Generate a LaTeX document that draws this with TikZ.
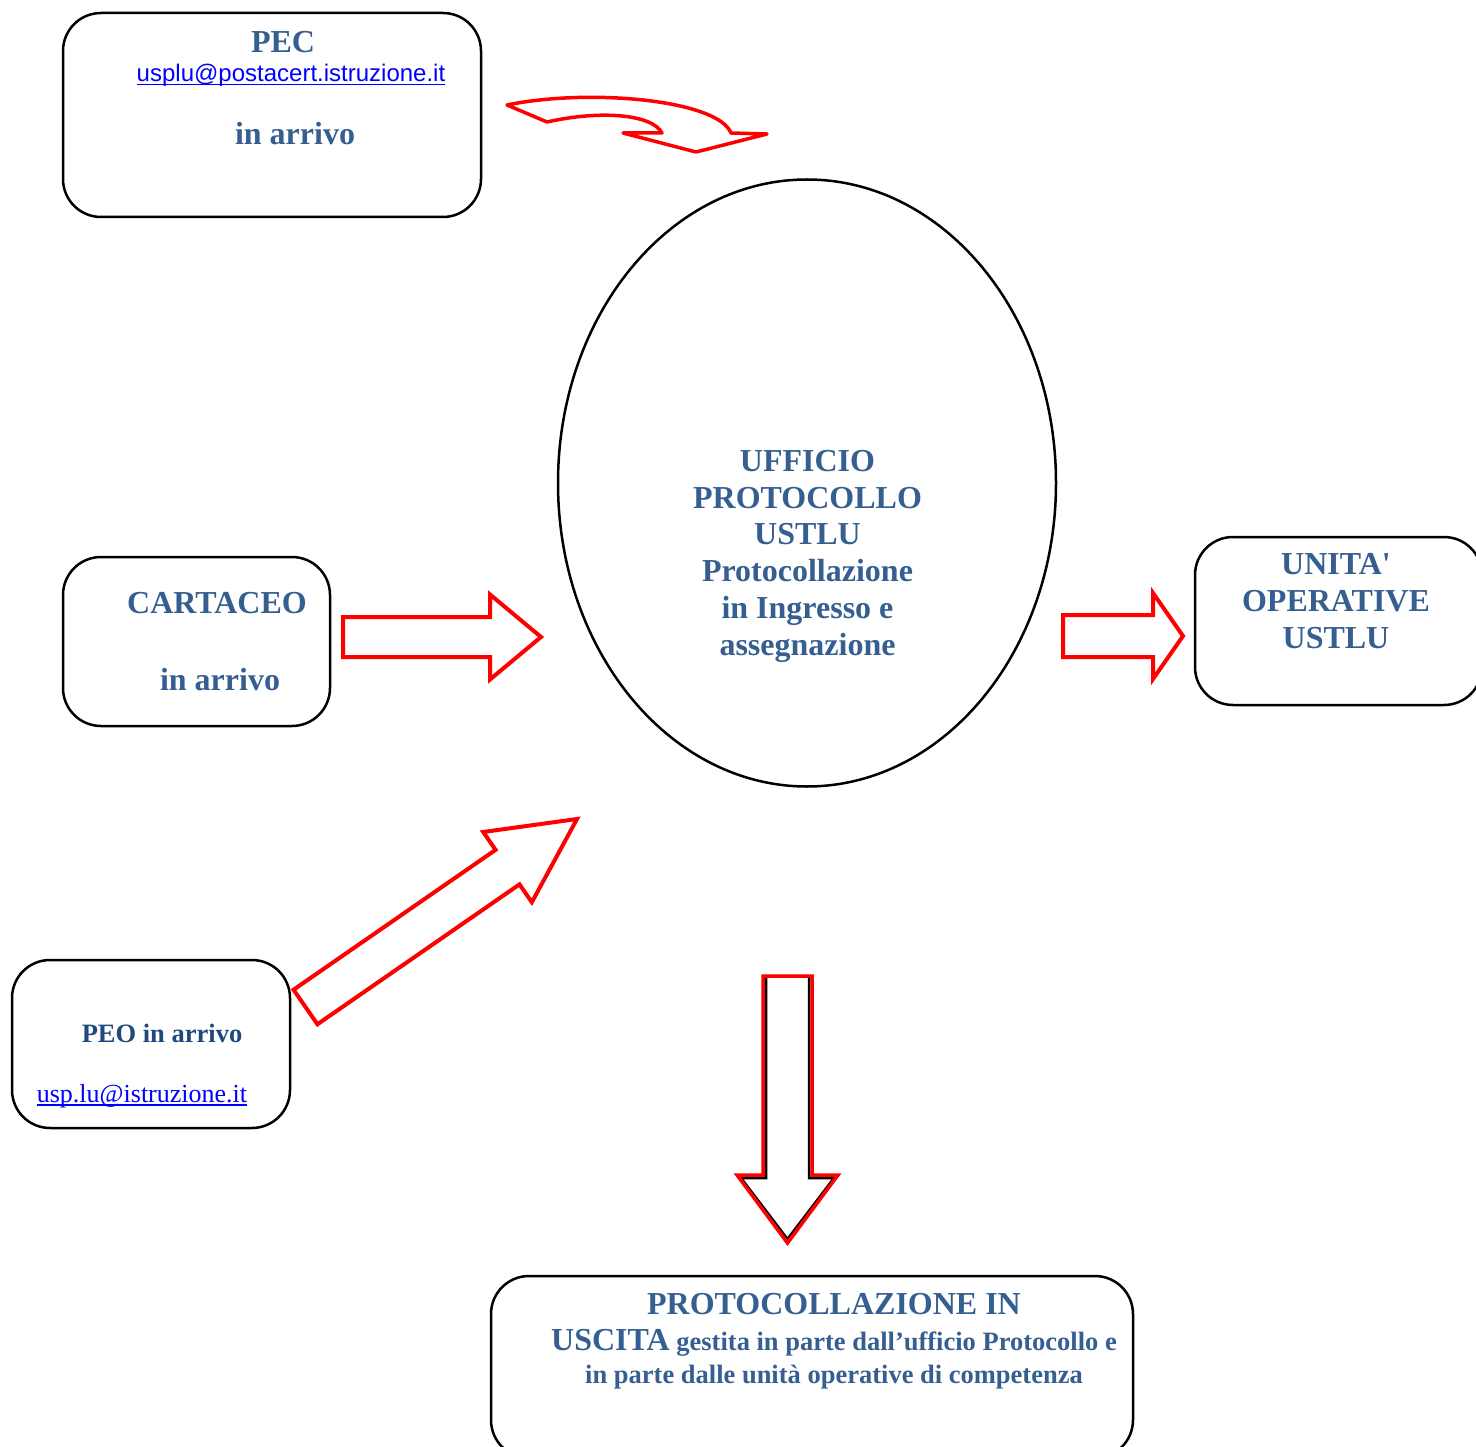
\documentclass[tikz,border=0pt]{standalone}
\usepackage{fontspec}
\setmainfont{Liberation Serif}
\newfontfamily\arialfont{Liberation Sans}
\usetikzlibrary{positioning, shapes.geometric, calc}

\definecolor{titleblue}{RGB}{54,95,145}
\definecolor{peoblue}{RGB}{31,73,125}

% underlined mail address
\newcommand{\mailul}[1]{\setbox0\hbox{#1}\rlap{\rule[-3.5pt]{\wd0}{1.6pt}}\box0}

% block arrow: [options]{tail}{tip}{shaft half width}{head half width}{head length}
\newcommand{\blockarrow}[6][]{%
  \coordinate (bahead) at ($(#3)!#6!(#2)$);
  \draw[blockarr, #1] ($(#2)!#4!90:(#3)$) -- ($(bahead)!#4!90:(#3)$) -- ($(bahead)!#5!90:(#3)$)
    -- (#3) -- ($(bahead)!#5!-90:(#3)$) -- ($(bahead)!#4!-90:(#3)$) -- ($(#2)!#4!-90:(#3)$) -- cycle;
}

\begin{document}
\begin{tikzpicture}[
        x=1pt, y=-1pt,
        box/.style={rectangle, draw, rounded corners=38pt, line width=2.5pt, inner sep=0pt},
        office/.style={ellipse, draw, line width=2.5pt, inner sep=0pt},
        bigtxt/.style={font=\fontsize{32}{36.7}\selectfont\bfseries, text=titleblue, align=center, inner sep=0pt, anchor=base},
        smalltxt/.style={font=\fontsize{26.5}{33}\selectfont\bfseries, text=titleblue, inner sep=0pt, anchor=base},
        mail/.style={text=blue, inner sep=0pt, anchor=base},
        blockarr/.style={draw=red, line width=4pt, fill=white, line join=miter},
        curvarr/.style={draw=red, line width=3.5pt, fill=white, line join=round}
    ]
    \useasboundingbox (0,0) rectangle (1476,1447);

    % Boxes
    \node[box, minimum width=418pt, minimum height=204pt] (pec) at (272,115) {};
    \node[box, minimum width=267pt, minimum height=169pt] (cart) at (196.5,641.5) {};
    \node[box, minimum width=287pt, minimum height=168pt] (unita) at (1338.5,621) {};
    \node[box, minimum width=278pt, minimum height=168pt] (peo) at (151,1044) {};
    \node[box, minimum width=642pt, minimum height=182pt] (uscita) at (812,1367) {};

    % Central office (base = last line)
    \node[office, minimum width=498pt, minimum height=607pt] (uff) at (807,483) {};
    \node[bigtxt] (ufftxt) at (807.5,655) {UFFICIO\\PROTOCOLLO\\USTLU\\Protocollazione\\in Ingresso e\\assegnazione};

    % Texts in boxes
    \node[bigtxt] (pectitle) at (283,53) {PEC};
    \node[mail, font=\arialfont\fontsize{24}{28}\selectfont] (pecmail) at (291,82) {\mailul{usplu@postacert.istruzione.it}};
    \node[bigtxt] (pecin) at (295,145) {in arrivo};
    \node[bigtxt] (carttitle) at (217,613) {CARTACEO};
    \node[bigtxt] (cartin) at (220,690) {in arrivo};
    \node[bigtxt] (unitatxt) at (1336,648) {UNITA\textquotesingle\\OPERATIVE\\USTLU};
    \node[smalltxt, text=peoblue] (peotxt) at (162,1042) {PEO in arrivo};
    \node[mail, font=\fontsize{26}{30}\selectfont] (peomail) at (142,1102) {\mailul{usp.lu@istruzione.it}};
    \node[bigtxt] (usc1) at (834,1314) {PROTOCOLLAZIONE IN};
    \node[smalltxt] (usc2) at (834,1350) {{\fontsize{32}{36.7}\selectfont USCITA} gestita in parte dall’ufficio Protocollo e};
    \node[smalltxt] (usc3) at (834,1383) {in parte dalle unità operative di competenza};

    % Curved arrow PEC -> office
    \coordinate (pecT) at (507,105);
    \coordinate (pecH) at (696,152);
    \draw[curvarr] (pecT) .. controls (590,88) and (718,100) .. (731,133) -- (767,134) -- (pecH)
        -- (623,133) -- (662,133) .. controls (652,114) and (600,110) .. (547,122) -- cycle;

    % Straight arrows
    \coordinate (cartT) at (343,637);
    \coordinate (cartH) at (541,637);
    \blockarrow{cartT}{cartH}{20pt}{42.5pt}{51pt}
    \coordinate (unitaT) at (1063,636);
    \coordinate (unitaH) at (1183,636);
    \blockarrow{unitaT}{unitaH}{21pt}{43pt}{30pt}
    \coordinate (peoT) at (305.5,1007);
    \coordinate (peoH) at (577,819);
    \blockarrow{peoT}{peoH}{21pt}{42.7pt}{84.5pt}

    % Down arrow to outgoing protocol
    \coordinate (uscT) at (787.5,976);
    \coordinate (uscHin) at (787.5,1239);
    \coordinate (uscH) at (787.5,1243);
    \blockarrow[draw=black, line width=2.5pt]{uscT}{uscHin}{21.5pt}{46.5pt}{61pt}
    \blockarrow[fill=none, line width=3.5pt]{uscT}{uscH}{24.5pt}{50.5pt}{68pt}

\end{tikzpicture}
\end{document}
